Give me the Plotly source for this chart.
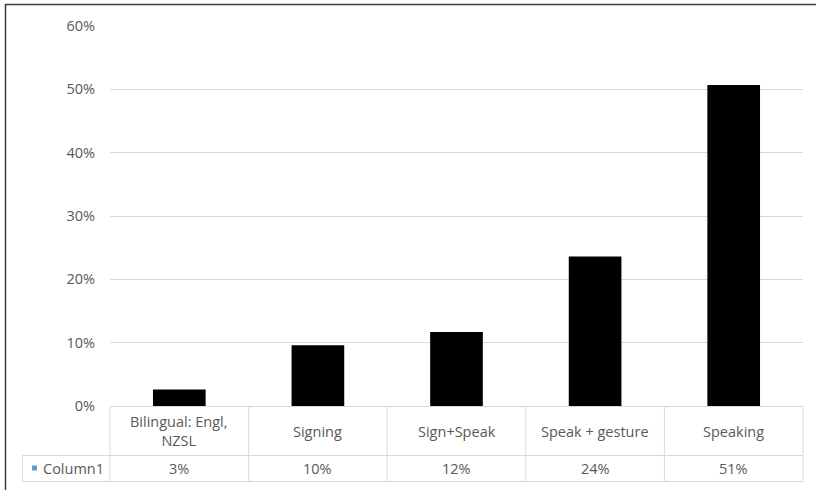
import plotly.graph_objects as go

# Communication mode shares
categories = ["Bilingual: Engl,<br>NZSL", "Signing", "Sign+Speak", "Speak + gesture", "Speaking"]
values = [0.026, 0.096, 0.117, 0.236, 0.507]
series_name = "Column1"
y_ticks = [0, 0.1, 0.2, 0.3, 0.4, 0.5, 0.6]

W, H = 816, 490
L, R, T, B = 110, 13, 26, 84
plot_w = W - L - R
plot_h = H - T - B

TEXT = "#595959"
GRID = "#d9d9d9"
FONT = "Open Sans, Liberation Sans, sans-serif"
FS = 14.5


def px_x(p):
    return (p - L) / plot_w


def px_y(p):
    return (H - B - p) / plot_h


fig = go.Figure(
    go.Bar(
        x=list(range(len(categories))),
        y=values,
        marker=dict(color="#000000", line=dict(width=0)),
        name=series_name,
        hoverinfo="skip",
    )
)

fig.update_layout(
    width=W,
    height=H,
    margin=dict(l=L, r=R, t=T, b=B),
    paper_bgcolor="white",
    plot_bgcolor="white",
    showlegend=False,
    bargap=0.62,
    font=dict(family=FONT, size=FS, color=TEXT),
)

fig.update_xaxes(
    range=[-0.5, len(categories) - 0.5],
    showticklabels=False,
    showgrid=False,
    zeroline=False,
    showline=False,
    ticks="",
)
fig.update_yaxes(
    range=[0, 0.6],
    tickvals=y_ticks,
    tickformat=".0%",
    showgrid=True,
    gridcolor=GRID,
    gridwidth=1,
    zeroline=False,
    showline=False,
    ticks="",
    ticklabelstandoff=14,
    tickfont=dict(family=FONT, size=FS, color=TEXT),
)

shapes = []
annotations = []

# data table below the bars
row_top = px_y(406.5)
row_mid = px_y(455.5)
row_bot = px_y(481.5)
col_edges = [L + i * plot_w / len(categories) for i in range(len(categories) + 1)]

for yv, x0 in [(row_top, L), (row_mid, 22), (row_bot, 22)]:
    shapes.append(dict(type="line", xref="paper", yref="paper",
                       x0=px_x(x0), x1=1, y0=yv, y1=yv,
                       line=dict(color=GRID, width=1)))
for i, xe in enumerate(col_edges):
    shapes.append(dict(type="line", xref="paper", yref="paper",
                       x0=px_x(xe), x1=px_x(xe), y0=row_top, y1=row_bot,
                       line=dict(color=GRID, width=1)))
shapes.append(dict(type="line", xref="paper", yref="paper",
                   x0=px_x(22.5), x1=px_x(22.5), y0=row_mid, y1=row_bot,
                   line=dict(color=GRID, width=1)))

for i, (cat, v) in enumerate(zip(categories, values)):
    annotations.append(dict(x=i, xref="x", y=(row_top + row_mid) / 2, yref="paper",
                            text=cat, showarrow=False, xanchor="center", yanchor="middle",
                            font=dict(family=FONT, size=FS, color=TEXT)))
    annotations.append(dict(x=i, xref="x", y=(row_mid + row_bot) / 2, yref="paper",
                            text=f"{round(v * 100):d}%", showarrow=False,
                            xanchor="center", yanchor="middle",
                            font=dict(family=FONT, size=FS, color=TEXT)))

# series key in the table
shapes.append(dict(type="rect", xref="paper", yref="paper",
                   x0=px_x(32), x1=px_x(37), y0=px_y(470.5), y1=px_y(465.5),
                   fillcolor="#5b9bd5", line=dict(width=0)))
annotations.append(dict(x=px_x(41), xref="paper", y=(row_mid + row_bot) / 2, yref="paper",
                        text=series_name, showarrow=False, xanchor="left", yanchor="middle",
                        font=dict(family=FONT, size=FS, color=TEXT)))

# chart frame
shapes.append(dict(type="line", xref="paper", yref="paper",
                   x0=px_x(5), x1=px_x(830), y0=px_y(4.5), y1=px_y(4.5),
                   line=dict(color="#3c3c3c", width=1.5)))
shapes.append(dict(type="line", xref="paper", yref="paper",
                   x0=px_x(5.5), x1=px_x(5.5), y0=px_y(4), y1=px_y(500),
                   line=dict(color="#3c3c3c", width=1.5)))

fig.update_layout(shapes=shapes, annotations=annotations)

fig.write_html("out.html")
